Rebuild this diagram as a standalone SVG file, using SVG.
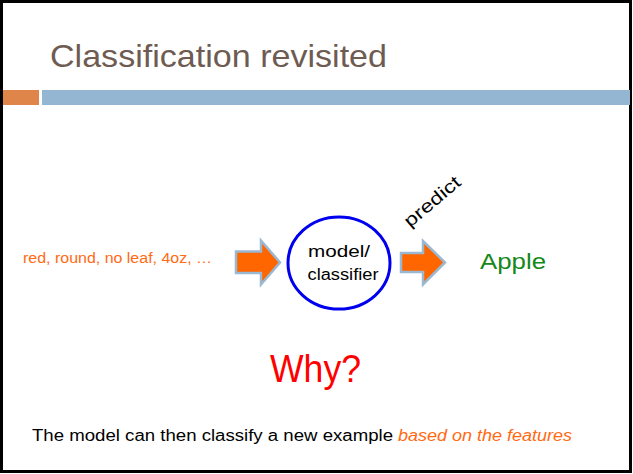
<svg xmlns="http://www.w3.org/2000/svg" width="633" height="474" viewBox="0 0 633 474">
<style>
.t{font-family:"Liberation Sans",Arial,sans-serif}
.arrow{fill:#ff6600;stroke:#9bb8d3;stroke-width:2.5;stroke-linejoin:miter}
</style>
<rect x="0" y="0" width="633" height="474" fill="#fff"/>
<rect x="1.5" y="1.5" width="629" height="470" fill="none" stroke="#000" stroke-width="3"/>
<g id="title">
<text class="t" x="50" y="67" font-size="32" fill="#6e5b52" textLength="337" lengthAdjust="spacingAndGlyphs">Classification revisited</text>
</g>
<g id="bars">
<rect x="3" y="90" width="36" height="15" fill="#e0854a"/>
<rect x="42" y="90" width="588" height="15" fill="#95b6d3"/>
</g>
<g id="features">
<text class="t" x="23" y="263" font-size="14" fill="#ff6a13" textLength="189" lengthAdjust="spacingAndGlyphs">red, round, no leaf, 4oz, …</text>
</g>
<g id="model">
<ellipse cx="339" cy="263" rx="51" ry="46" fill="#fff" stroke="#0000ee" stroke-width="3"/>
<text class="t" x="339" y="257" font-size="16" fill="#000" text-anchor="middle" textLength="62" lengthAdjust="spacingAndGlyphs">model/</text>
<text class="t" x="343" y="280" font-size="16" fill="#000" text-anchor="middle" textLength="71" lengthAdjust="spacingAndGlyphs">classifier</text>
</g>
<g id="apple">
<text class="t" x="480" y="269" font-size="22" fill="#14881a" textLength="66" lengthAdjust="spacingAndGlyphs">Apple</text>
</g>
<g id="connectors">
<polygon class="arrow" points="236,251.5 261,251.5 261,240.5 280,262.5 261,284.5 261,273 236,273"/>
<polygon class="arrow" points="401,253 423,253 423,241 445,262.5 423,284.5 423,272 401,272"/>
<text class="t" x="410" y="228" font-size="18" fill="#000" transform="rotate(-40 410 228)" textLength="68" lengthAdjust="spacingAndGlyphs">predict</text>
</g>
<g id="why">
<text class="t" x="270" y="382" font-size="39" fill="#ff0000" textLength="91" lengthAdjust="spacingAndGlyphs">Why?</text>
</g>
<g id="caption">
<text class="t" x="32" y="441" font-size="16" fill="#000" textLength="361" lengthAdjust="spacingAndGlyphs">The model can then classify a new example</text>
<text class="t" x="398" y="441" font-size="16" fill="#ff6a13" font-style="italic" textLength="174" lengthAdjust="spacingAndGlyphs">based on the features</text>
</g>
</svg>
